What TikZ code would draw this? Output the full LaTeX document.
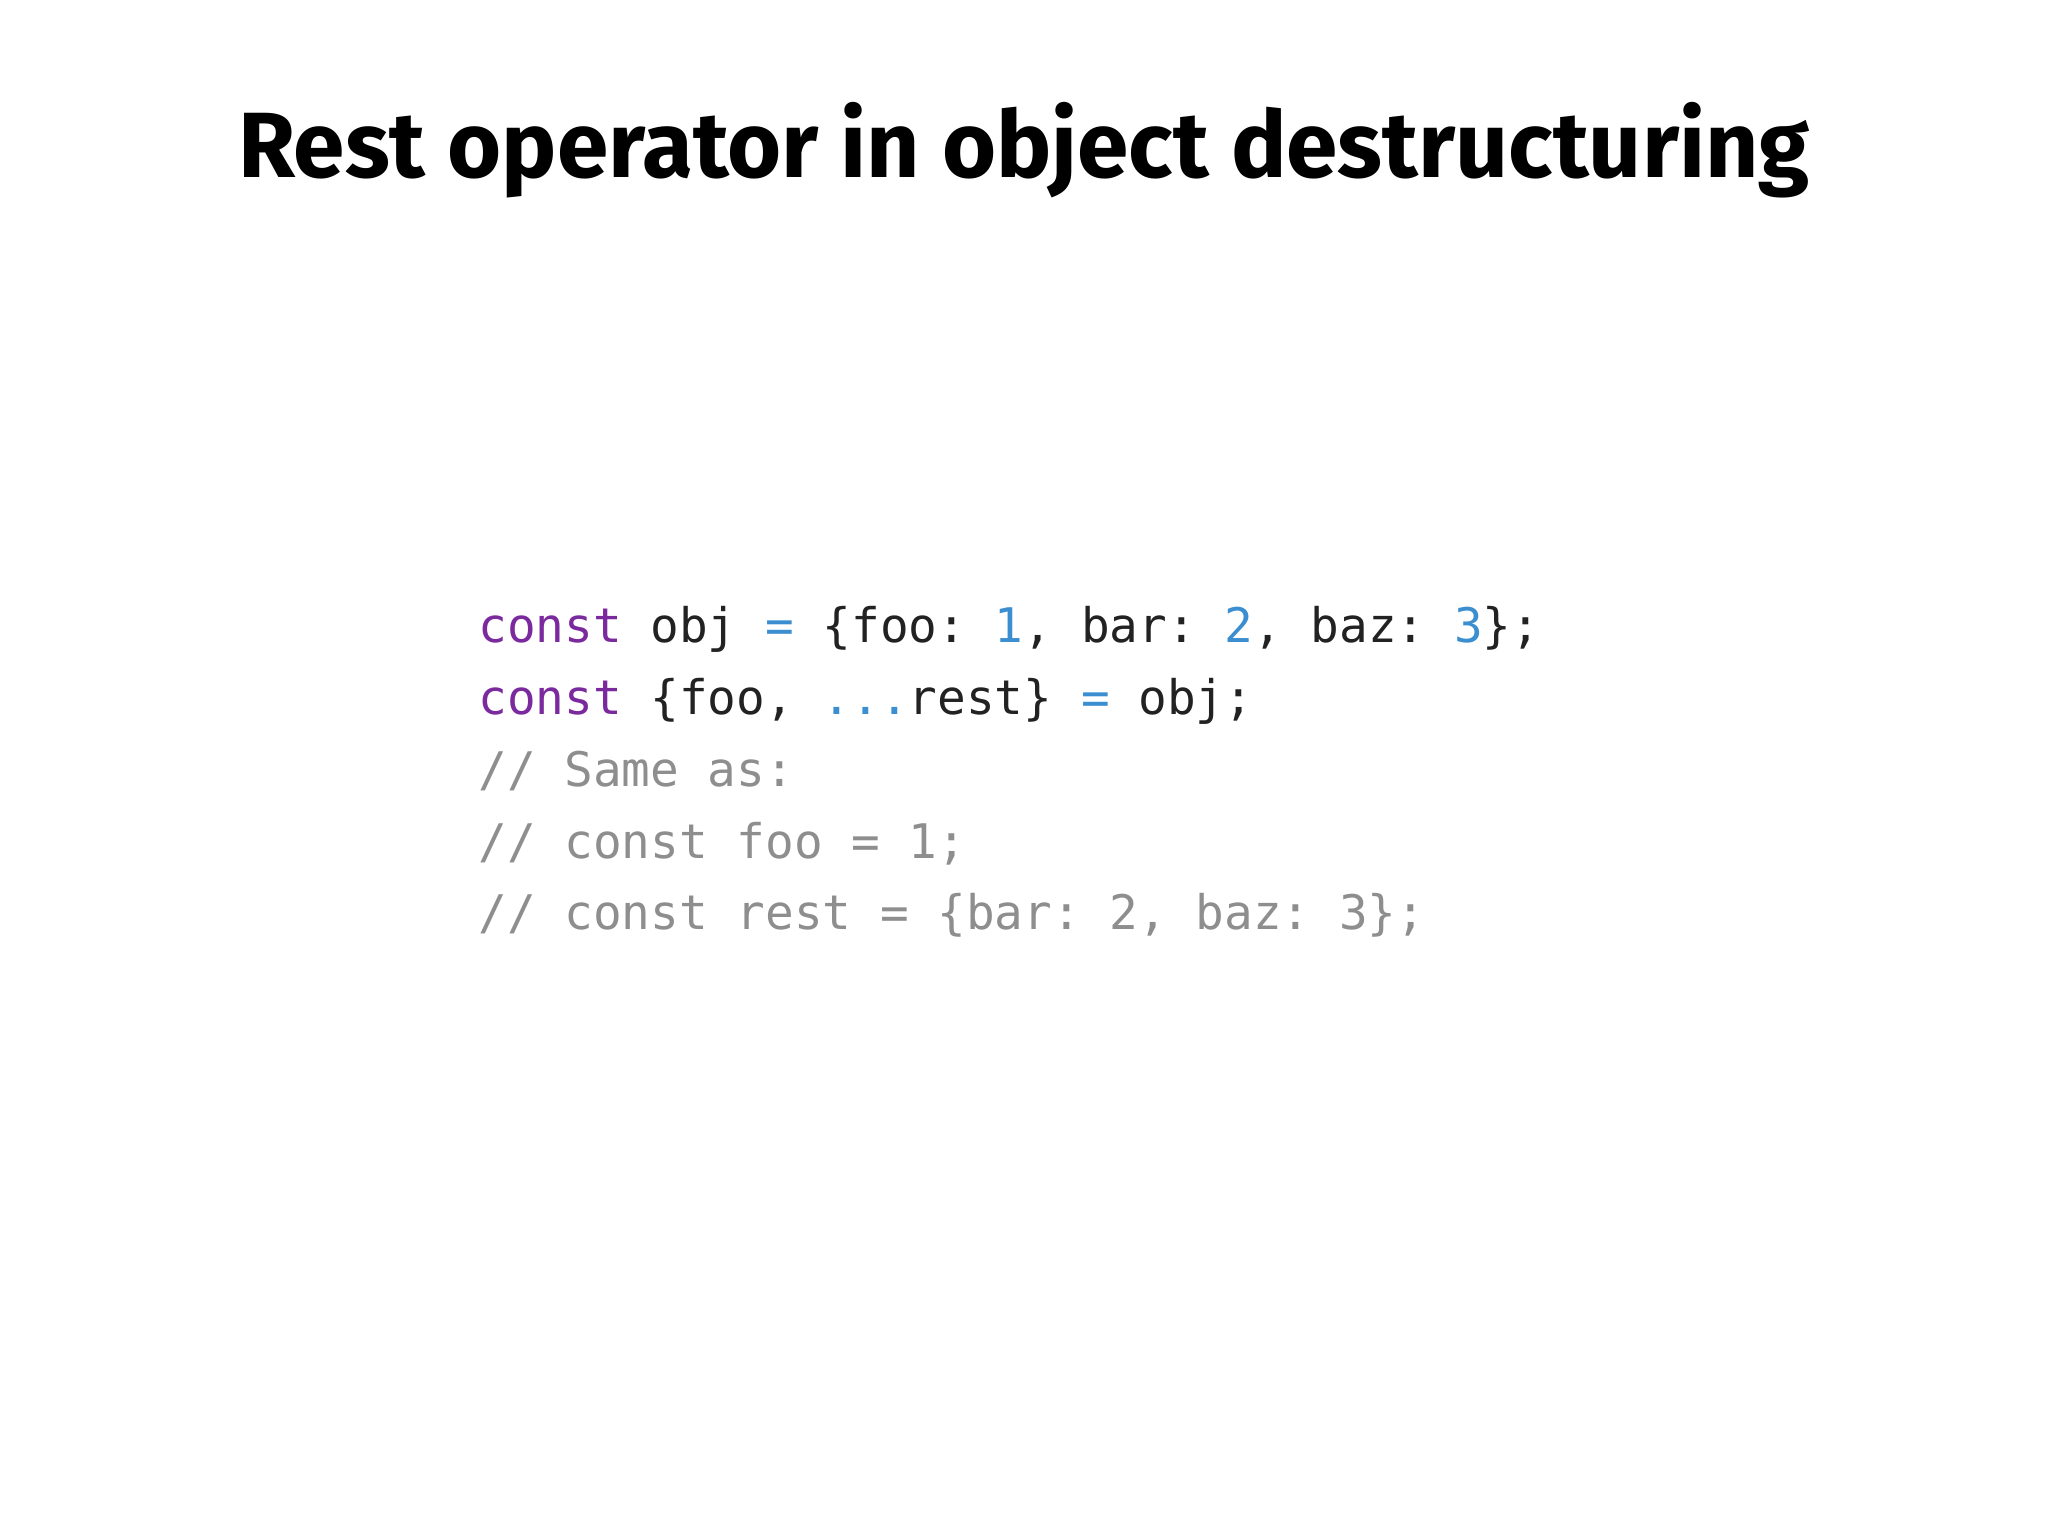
\documentclass[tikz,border=0pt]{standalone}
\usepackage{fontspec}
\setmainfont{Fira Sans}
\setmonofont{DejaVu Sans Mono}
\definecolor{kw}{HTML}{7B2A9E}
\definecolor{num}{HTML}{3B8ED0}
\definecolor{txt}{HTML}{222222}
\definecolor{cmt}{HTML}{8E8E8E}
\begin{document}
\begin{tikzpicture}[x=1pt,y=1pt,
  codeline/.style={anchor=base west,inner sep=0pt,font=\fontsize{36.5}{40}\ttfamily,text=txt}]
\useasboundingbox (0,0) rectangle (1568,1176);
\node[anchor=base,inner sep=0pt,font=\fontsize{71}{75}\selectfont\bfseries] (title) at (784,1040) {Rest operator in object destructuring};
\node[codeline] (l1) at (366,684) {\textcolor{kw}{const} obj \textcolor{num}{=} \{foo: \textcolor{num}{1}, bar: \textcolor{num}{2}, baz: \textcolor{num}{3}\};};
\node[codeline] (l2) at (366,629) {\textcolor{kw}{const} \{foo, \textcolor{num}{...}rest\} \textcolor{num}{=} obj;};
\node[codeline,text=cmt] (l3) at (366,574) {// Same as:};
\node[codeline,text=cmt] (l4) at (366,519) {// const foo = 1;};
\node[codeline,text=cmt] (l5) at (366,464) {// const rest = \{bar: 2, baz: 3\};};
\end{tikzpicture}
\end{document}
